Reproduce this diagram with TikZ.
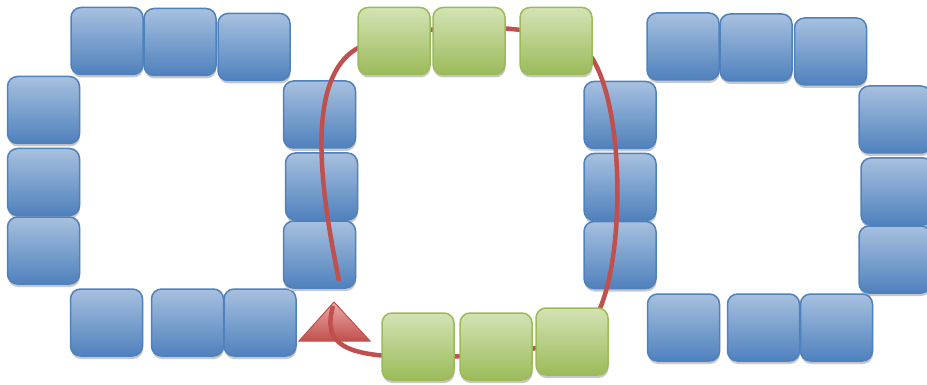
\documentclass[tikz,border=0pt]{standalone}
\usetikzlibrary{shadows}
\definecolor{boxblue}{HTML}{4F81BD}
\definecolor{boxbluetop}{HTML}{A7C0DF}
\definecolor{boxgreen}{HTML}{9BBB59}
\definecolor{boxgreentop}{HTML}{D3E3B5}
\definecolor{loopred}{HTML}{C0504D}
\definecolor{loopredtop}{HTML}{EBA8A6}
\tikzset{
  tile/.style={minimum width=72pt, minimum height=67pt, rounded corners=10pt,
    line width=1.5pt, inner sep=0pt,
    drop shadow={shadow xshift=0.5pt, shadow yshift=-3pt, fill=black!22, opacity=1}},
  bluetile/.style={tile, draw=boxblue, top color=boxbluetop, bottom color=boxblue},
  greentile/.style={tile, draw=boxgreen, top color=boxgreentop, bottom color=boxgreen},
}
\begin{document}
\begin{tikzpicture}[x=1pt, y=-1pt]
        \useasboundingbox (0,0) rectangle (927,385);

        % left ring
        \node[bluetile] (lt1) at (107,41) {};
        \node[bluetile] (lt2) at (180,42) {};
        \node[bluetile] (lt3) at (254,47) {};
        \node[bluetile] (ll1) at (43.5,110) {};
        \node[bluetile] (ll2) at (43.5,182) {};
        \node[bluetile] (ll3) at (43.5,250.5) {};
        \node[bluetile] (lb1) at (106.5,322.5) {};
        \node[bluetile] (lb2) at (187.5,322.5) {};
        \node[bluetile] (lb3) at (260,322.5) {};
        \node[bluetile] (lr1) at (319.5,114.5) {};
        \node[bluetile] (lr2) at (321.5,186.5) {};
        \node[bluetile] (lr3) at (319.5,254.5) {};

        % right ring
        \node[bluetile] (mr1) at (620,115) {};
        \node[bluetile] (mr2) at (620,187) {};
        \node[bluetile] (mr3) at (620,255) {};
        \node[bluetile] (rt1) at (683,46.5) {};
        \node[bluetile] (rt2) at (756,47.5) {};
        \node[bluetile] (rt3) at (830.5,51.5) {};
        \node[bluetile] (rr1) at (895,119.5) {};
        \node[bluetile] (rr2) at (897,191.5) {};
        \node[bluetile] (rr3) at (895,259.5) {};
        \node[bluetile] (rb1) at (683.5,327.5) {};
        \node[bluetile] (rb2) at (763.5,327.5) {};
        \node[bluetile] (rb3) at (836.5,327.5) {};

        % the loop
        \coordinate (start) at (339,281);
        \coordinate (tip) at (334,302);
        \draw[loopred, line width=1pt, top color=loopredtop, bottom color=loopred]
          (tip) -- (370,341) -- (299,341) -- cycle;
        \draw[loopred, line width=4.5pt]
          (start) .. controls (325,210) and (300,80) .. (358,48)
          .. controls (390,30) and (420,30) .. (470,28)
          .. controls (520,26) and (570,35) .. (592,58)
          .. controls (625,110) and (625,260) .. (597,315)
          .. controls (575,350) and (500,357) .. (420,357)
          .. controls (345,357) and (322,345) .. (333,306);

        % middle tiles
        \node[greentile] (gt1) at (394,41) {};
        \node[greentile] (gt2) at (469,41) {};
        \node[greentile] (gt3) at (556,41) {};
        \node[greentile] (gb1) at (418,346.5) {};
        \node[greentile] (gb2) at (496,346.5) {};
        \node[greentile] (gb3) at (572,341.5) {};
      \end{tikzpicture}
\end{document}
